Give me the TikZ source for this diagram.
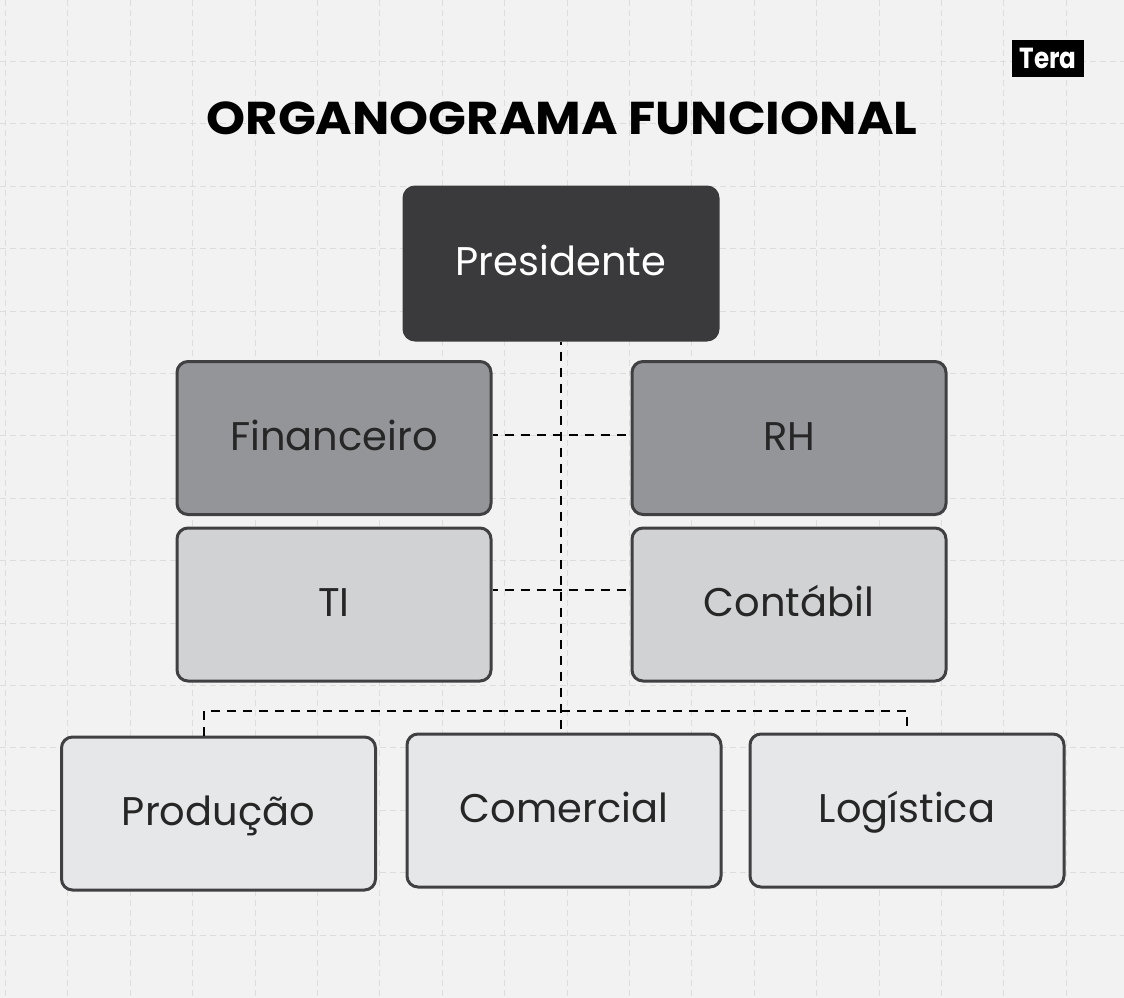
\documentclass[tikz,border=0pt]{standalone}
\usepackage{fontspec}
\setmainfont{Poppins}
\newfontfamily\titulofont[FakeStretch=1.08]{Poppins}
\newfontfamily\logofont[FakeStretch=0.85]{Poppins}
\definecolor{fundo}{HTML}{F2F2F2}
\definecolor{grade}{HTML}{DDDDDD}
\definecolor{borda}{HTML}{404042}
\definecolor{escuro}{HTML}{3A3A3C}
\definecolor{medio}{HTML}{939598}
\definecolor{claro}{HTML}{D1D2D4}
\definecolor{clarinho}{HTML}{E6E7E9}
\tikzset{
	setor/.style={draw=borda,line width=3pt,rounded corners=11pt,minimum width=314pt,minimum height=153pt,
		inner sep=0pt,text=black!85,text height=30pt,text depth=6pt,font=\fontsize{40}{48}\selectfont},
	ligacao/.style={draw=black,line width=2pt,dash pattern=on 9pt off 7pt},
}
\begin{document}
\begin{tikzpicture}
		[x=1pt,y=-1pt]
		\useasboundingbox (0,0) rectangle (1124,998);
		\fill[fundo] (0,0) rectangle (1124,998);
		\foreach \i in {0,...,17}
			\draw[grade,line width=1pt,dash pattern=on 6pt off 4pt] (5.5+62.4*\i,0) -- (5.5+62.4*\i,998);
		\foreach \i in {0,...,14}
			\draw[grade,line width=1pt,dash pattern=on 6pt off 4pt] (0,61.5+62.4*\i) -- (1124,61.5+62.4*\i);

		\node (titulo) at (562,118) [text=black,font=\titulofont\fontsize{46}{54}\bfseries\selectfont] {ORGANOGRAMA FUNCIONAL};
		\node (logo) at (1048,58.5) [fill=black,text=white,minimum width=72pt,minimum height=37pt,inner sep=0pt,
			font=\logofont\fontsize{29}{32}\bfseries\selectfont] {Tera};

		\node[setor,fill=escuro,draw=escuro,text=white] (presidente) at (561,263.5) {Presidente};
		\node[setor,fill=medio] (financeiro) at (334,438) {Financeiro};
		\node[setor,fill=medio] (rh) at (789,438) {RH};
		\node[setor,fill=claro] (ti) at (334,604.5) {TI};
		\node[setor,fill=claro] (contabil) at (789,604.5) {Contábil};
		\node[setor,fill=clarinho] (producao) at (218.5,813.5) {Produção};
		\node[setor,fill=clarinho] (comercial) at (564,810.5) {Comercial};
		\node[setor,fill=clarinho] (logistica) at (907,810.5) {Logística};

		% tronco e barramento
		\coordinate (tronco) at (561,711);
		\coordinate (fimtronco) at (561,729);
		\coordinate (fimlogistica) at (907,726);
		\coordinate (iniproducao) at (204,736);
		\draw[ligacao,dash phase=6pt] (presidente.south) -- (tronco) -- (fimtronco);
		\draw[ligacao] (iniproducao) |- (tronco);
		\draw[ligacao] (tronco) -| (fimlogistica);
		\draw[ligacao,dash phase=4pt] ([yshift=3.5pt]financeiro.east) -- ([yshift=3.5pt]rh.west);
		\draw[ligacao,dash phase=4pt] ([yshift=14.5pt]ti.east) -- ([yshift=14.5pt]contabil.west);
	\end{tikzpicture}
\end{document}
